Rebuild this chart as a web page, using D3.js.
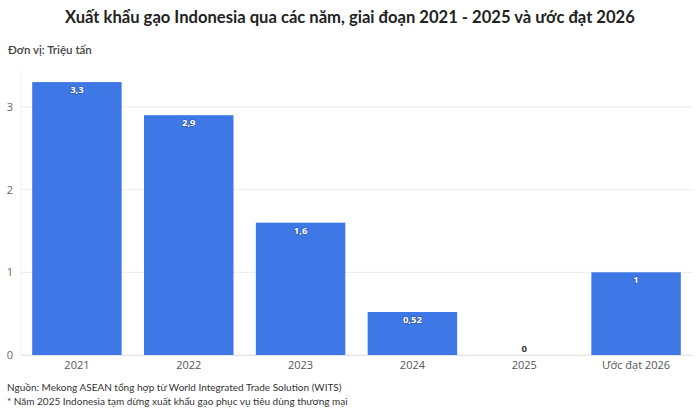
<!DOCTYPE html>
<html>
<head>
<meta charset="utf-8">
<script src="https://cdn.jsdelivr.net/npm/d3@7"></script>
<style>
  body { margin: 0; background: #fff; }
  svg { display: block; }
</style>
</head>
<body>
<div id="chart"></div>
<script>
const categories = ["2021", "2022", "2023", "2024", "2025", "Ước đạt 2026"];
const values = [3.3, 2.9, 1.6, 0.52, 0, 1];
const labels = ["3,3", "2,9", "1,6", "0,52", "0", "1"];
const yTicks = [0, 1, 2, 3];

const width = 700;
const height = 414;
const margin = { top: 70, right: 8, bottom: 59, left: 21 };

const svg = d3.select("#chart")
    .append("svg")
    .attr("width", width)
    .attr("height", height);

svg.append("text")
    .attr("x", width / 2)
    .attr("y", 23)
    .attr("text-anchor", "middle")
    .style("font-family", "Lato, sans-serif")
    .style("font-weight", "bold")
    .style("font-size", "16.6px")
    .style("fill", "#222")
    .text("Xuất khẩu gạo Indonesia qua các năm, giai đoạn 2021 - 2025 và ước đạt 2026");

svg.append("text")
    .attr("x", 8)
    .attr("y", 54)
    .style("font-family", "Lato, sans-serif")
    .style("font-weight", "600")
    .style("font-size", "11.5px")
    .style("fill", "#444")
    .text("Đơn vị: Triệu tấn");

const xScale = d3.scaleBand()
    .domain(categories)
    .range([margin.left, width - margin.right])
    .paddingInner(0.2)
    .paddingOuter(0.1);

const yScale = d3.scaleLinear()
    .domain([0, 3])
    .range([height - margin.bottom, height - margin.bottom - 3 * 82.7]);

// gridlines
svg.append("g")
    .selectAll("line")
    .data(yTicks)
    .enter()
    .append("line")
    .attr("x1", margin.left)
    .attr("x2", width - margin.right)
    .attr("y1", d => yScale(d))
    .attr("y2", d => yScale(d))
    .attr("stroke", "#ececec")
    .attr("stroke-width", 1);

svg.append("line")
    .attr("x1", margin.left)
    .attr("x2", margin.left)
    .attr("y1", yScale(0))
    .attr("y2", margin.top)
    .attr("stroke", "#f0f0f0");

const yAxis = d3.axisLeft(yScale)
    .tickValues(yTicks)
    .tickFormat(d3.format("d"))
    .tickSize(0)
    .tickPadding(8);
const yG = svg.append("g")
    .attr("transform", `translate(${margin.left},0)`)
    .call(yAxis);
yG.select(".domain").remove();
yG.selectAll("text")
    .style("font-family", "'Open Sans', sans-serif")
    .style("font-size", "11px")
    .style("fill", "#666");

svg.selectAll("rect.bar")
    .data(values)
    .enter()
    .append("rect")
    .attr("class", "bar")
    .attr("x", (d, i) => xScale(categories[i]))
    .attr("y", d => yScale(d))
    .attr("width", xScale.bandwidth())
    .attr("height", d => yScale(0) - yScale(d))
    .attr("fill", "#3d78e6");

svg.selectAll("text.val")
    .data(values)
    .enter()
    .append("text")
    .attr("class", "val")
    .attr("x", (d, i) => xScale(categories[i]) + xScale.bandwidth() / 2)
    .attr("y", d => d > 0 ? yScale(d) + 11 : yScale(d) - 3)
    .attr("text-anchor", "middle")
    .style("font-family", "'Open Sans', sans-serif")
    .style("font-weight", "bold")
    .style("font-size", "9.5px")
    .style("fill", d => d > 0 ? "#fff" : "#333")
    .style("stroke", d => d > 0 ? "rgba(20,40,90,0.35)" : "none")
    .style("stroke-width", "1.5px")
    .style("paint-order", "stroke")
    .text((d, i) => labels[i]);

const xAxis = d3.axisBottom(xScale).tickSize(0).tickPadding(6);
const xG = svg.append("g")
    .attr("transform", `translate(0,${yScale(0)})`)
    .call(xAxis);
xG.select(".domain")
    .attr("stroke", "#e4e4e4");
xG.selectAll("text")
    .style("font-family", "'Open Sans', sans-serif")
    .style("font-size", "11px")
    .style("fill", "#555");

const notes = [
    "Nguồn: Mekong ASEAN tổng hợp từ World Integrated Trade Solution (WITS)",
    "* Năm 2025 Indonesia tạm dừng xuất khẩu gạo phục vụ tiêu dùng thương mại"
];
svg.selectAll("text.note")
    .data(notes)
    .enter()
    .append("text")
    .attr("class", "note")
    .attr("x", 7)
    .attr("y", (d, i) => 391 + i * 14)
    .style("font-family", "Lato, sans-serif")
    .style("font-size", "10px")
    .style("fill", "#333")
    .text(d => d);
</script>
</body>
</html>
